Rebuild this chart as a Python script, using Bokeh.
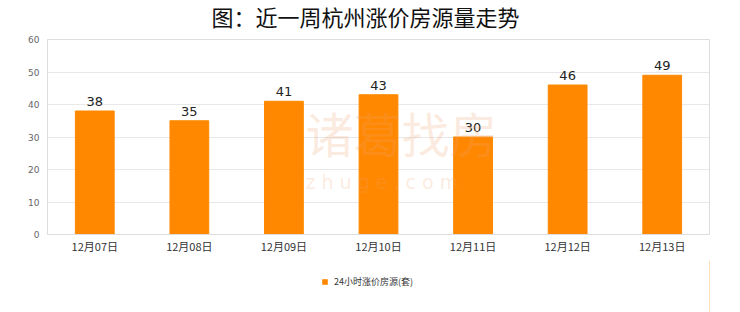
from bokeh.plotting import figure
from bokeh.models import Range1d, ColumnDataSource, Legend, LegendItem, Label
from bokeh.layouts import column
from bokeh.core.properties import value
from bokeh.embed import file_html
from bokeh.resources import INLINE

dates = ["12月07日", "12月08日", "12月09日", "12月10日", "12月11日", "12月12日", "12月13日"]
values = [38, 35, 41, 43, 30, 46, 49]
series_name = "24小时涨价房源(套)"
title_text = "图：近一周杭州涨价房源量走势"
bar_color = "#FF8800"

src = ColumnDataSource(dict(x=dates, y=values, lab=[str(v) for v in values]))


def strip(h):
    f = figure(width=740, height=h, x_range=Range1d(0, 1), y_range=Range1d(0, 1),
               x_axis_type=None, y_axis_type=None, output_backend="svg", toolbar_location=None,
               min_border=0, outline_line_color=None)
    f.grid.visible = False
    return f


# title strip
tt = strip(31)
tt.add_layout(Label(x=164, y=16, x_units="screen", y_units="screen", text=title_text,
                    text_baseline="middle", text_font="Noto Sans CJK SC", text_font_size="22px",
                    text_color="#111111"))

# main chart
p = figure(x_range=dates, y_range=Range1d(0, 60), width=740, height=229,
           output_backend="svg", toolbar_location=None,
           min_border_left=47, min_border_right=31, min_border_top=8, min_border_bottom=26)

# watermark
p.add_layout(Label(x=258, y=68, x_units="screen", y_units="screen", text="诸葛找房",
                   text_font="Noto Sans CJK SC", text_font_size="48px",
                   text_color="#f0a070", text_alpha=0.22))
p.add_layout(Label(x=258, y=42, x_units="screen", y_units="screen", text="z h u g e . c o m",
                   text_font="DejaVu Sans", text_font_size="19px",
                   text_color="#f0a070", text_alpha=0.22))

r = p.vbar(x="x", top="y", width=0.41, source=src, fill_color=bar_color, line_color=bar_color)
p.text(x="x", y="y", text="lab", source=src, text_align="center", text_baseline="bottom",
       y_offset=-5, text_font=value("DejaVu Sans"), text_font_size="13px", text_color="#222222")

p.outline_line_color = "#dddddd"
p.xgrid.grid_line_color = None
p.ygrid.grid_line_color = "#e8e8e8"

p.yaxis.ticker = [0, 10, 20, 30, 40, 50, 60]
for ax in (p.xaxis, p.yaxis):
    ax.axis_line_color = "#dddddd"
    ax.major_tick_line_color = None
    ax.minor_tick_line_color = None
p.yaxis.major_label_text_font_size = "9px"
p.yaxis.major_label_text_color = "#666666"
p.yaxis.major_label_text_font = "DejaVu Sans"
p.yaxis.major_label_standoff = 2
p.xaxis.major_label_text_font_size = "11px"
p.xaxis.major_label_text_color = "#333333"
p.xaxis.major_label_text_font = "Noto Sans CJK SC"
p.xaxis.major_label_standoff = -3

# legend strip below the chart (swatch renderer lies outside the strip's visible range)
lg = strip(52)
swatch = lg.vbar(x=[values[0]], top=[values[0]], width=0.5, fill_color=bar_color, line_color=None)
legend = Legend(items=[LegendItem(label=series_name, renderers=[swatch])], orientation="horizontal",
                location=(274, 24), label_text_font_size="9px", label_text_color="#333333",
                label_text_font="Noto Sans CJK SC", glyph_width=7, glyph_height=7,
                label_standoff=6, border_line_color=None, margin=0, padding=2)
lg.add_layout(legend, "center")

open("out.html", "w").write(file_html(column(tt, p, lg, spacing=0), INLINE))
